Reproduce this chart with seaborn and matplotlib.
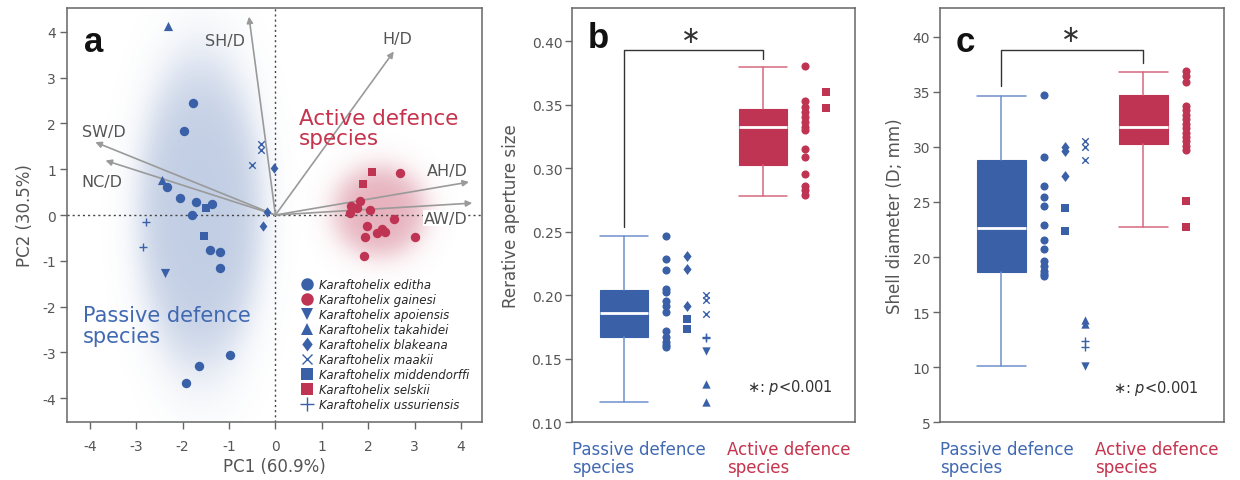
import numpy as np
import pandas as pd
import matplotlib
matplotlib.use("Agg")
import matplotlib.pyplot as plt
import matplotlib.colors as mcolors
from matplotlib.lines import Line2D
from matplotlib.path import Path
import seaborn as sns

# ============================ DATA ============================
species = ["editha", "gainesi", "apoiensis", "takahidei", "blakeana",
           "maakii", "middendorffi", "selskii", "ussuriensis"]
active_species = ["gainesi", "selskii"]
groups = ["Passive defence\nspecies", "Active defence\nspecies"]

# ---- panel a: PCA scores (PC1, PC2) ----
editha_pc1 = [-1.78, -1.96, -2.33, -2.05, -1.72, -1.36, -1.80, -1.40, -1.19, -1.20, -0.97, -1.65, -1.93]
editha_pc2 = [2.45, 1.83, 0.61, 0.37, 0.28, 0.23, 0.00, -0.77, -0.80, -1.16, -3.05, -3.29, -3.67]
gainesi_pc1 = [2.69, 1.83, 1.62, 1.76, 2.03, 1.60, 2.55, 1.98, 2.30, 2.37, 2.19, 1.94, 3.00, 1.90]
gainesi_pc2 = [0.91, 0.31, 0.19, 0.15, 0.10, 0.05, -0.09, -0.23, -0.31, -0.37, -0.40, -0.49, -0.48, -0.89]
apoiensis_pc1 = [-2.37]
apoiensis_pc2 = [-1.27]
takahidei_pc1 = [-2.32, -2.44]
takahidei_pc2 = [4.12, 0.77]
blakeana_pc1 = [-0.03, -0.18, -0.27]
blakeana_pc2 = [1.02, 0.06, -0.23]
maakii_pc1 = [-0.32, -0.32, -0.50]
maakii_pc2 = [1.56, 1.43, 1.10]
middendorffi_pc1 = [-1.49, -1.54]
middendorffi_pc2 = [0.15, -0.45]
selskii_pc1 = [2.08, 1.88]
selskii_pc2 = [0.94, 0.68]
ussuriensis_pc1 = [-2.79, -2.85]
ussuriensis_pc2 = [-0.15, -0.69]

# loading vectors
load_names = ["SH/D", "H/D", "SW/D", "NC/D", "AH/D", "AW/D"]
load_pc1 = [-0.57, 2.55, -3.88, -3.66, 4.17, 4.24]
load_pc2 = [4.33, 3.57, 1.59, 1.19, 0.72, 0.26]

# ---- panel b: relative aperture size ----
editha_ap = [0.2467, 0.2284, 0.2200, 0.2050, 0.2027, 0.1956, 0.1912, 0.1865, 0.1720, 0.1668, 0.1629, 0.1610, 0.1590]
gainesi_ap = [0.3805, 0.3528, 0.3480, 0.3440, 0.3400, 0.3360, 0.3320, 0.3300, 0.3149, 0.3091, 0.2952, 0.2860, 0.2830, 0.2790]
apoiensis_ap = [0.1558]
takahidei_ap = [0.1301, 0.1162]
blakeana_ap = [0.2310, 0.2205, 0.1912]
maakii_ap = [0.2001, 0.1962, 0.1852]
middendorffi_ap = [0.1812, 0.1734]
selskii_ap = [0.3602, 0.3471]
ussuriensis_ap = [0.1675, 0.1665]

ap_q1 = [0.1668, 0.3023]
ap_med = [0.1857, 0.3324]
ap_q3 = [0.2040, 0.3463]
ap_lo = [0.1160, 0.2782]
ap_hi = [0.2467, 0.3799]

# ---- panel c: shell diameter ----
editha_d = [34.70, 29.10, 26.47, 25.42, 24.66, 22.93, 21.54, 20.73, 19.67, 19.21, 18.76, 18.50, 18.30]
gainesi_d = [36.9, 36.4, 35.9, 33.7, 33.3, 32.9, 32.5, 32.1, 31.7, 31.3, 30.9, 30.5, 30.1, 29.7]
apoiensis_d = [10.14]
takahidei_d = [14.30, 13.92]
blakeana_d = [30.0, 29.6, 27.38]
maakii_d = [30.55, 29.95, 28.80]
middendorffi_d = [24.45, 22.39]
selskii_d = [25.11, 22.75]
ussuriensis_d = [12.41, 11.80]

d_q1 = [18.67, 30.25]
d_med = [22.60, 31.77]
d_q3 = [28.83, 34.73]
d_lo = [10.08, 22.70]
d_hi = [34.64, 36.76]

# ============================ STYLE ============================
sns.set_theme(style="ticks")
plt.rcParams["font.family"] = ["DejaVu Sans"]
plt.rcParams["axes.unicode_minus"] = False

BLUE = "#3A61A8"
RED = "#BE3452"
BLUE_W = "#7090CB"
RED_W = "#D4687F"
BLUE_T = "#4169B2"
RED_T = "#C5334D"
GRAY = "#555555"
SPINE = "#666666"

DIAMOND = Path([(0, 1), (0.75, 0), (0, -1), (-0.75, 0), (0, 1)],
               [Path.MOVETO, Path.LINETO, Path.LINETO, Path.LINETO, Path.CLOSEPOLY])

marker_of = {"editha": "o", "gainesi": "o", "apoiensis": "v", "takahidei": "^",
             "blakeana": DIAMOND, "maakii": "x", "middendorffi": "s",
             "selskii": "s", "ussuriensis": "+"}
color_of = {sp: (RED if sp in active_species else BLUE) for sp in species}
size_a = {"editha": 46, "gainesi": 46, "apoiensis": 44, "takahidei": 44, "blakeana": 55,
          "maakii": 22, "middendorffi": 38, "selskii": 38, "ussuriensis": 36}
size_box = {"editha": 34, "gainesi": 34, "apoiensis": 36, "takahidei": 36, "blakeana": 62,
            "maakii": 22, "middendorffi": 36, "selskii": 34, "ussuriensis": 28}

pca = {"editha": (editha_pc1, editha_pc2), "gainesi": (gainesi_pc1, gainesi_pc2),
       "apoiensis": (apoiensis_pc1, apoiensis_pc2), "takahidei": (takahidei_pc1, takahidei_pc2),
       "blakeana": (blakeana_pc1, blakeana_pc2), "maakii": (maakii_pc1, maakii_pc2),
       "middendorffi": (middendorffi_pc1, middendorffi_pc2), "selskii": (selskii_pc1, selskii_pc2),
       "ussuriensis": (ussuriensis_pc1, ussuriensis_pc2)}
ap = {"editha": editha_ap, "gainesi": gainesi_ap, "apoiensis": apoiensis_ap,
      "takahidei": takahidei_ap, "blakeana": blakeana_ap, "maakii": maakii_ap,
      "middendorffi": middendorffi_ap, "selskii": selskii_ap, "ussuriensis": ussuriensis_ap}
dia = {"editha": editha_d, "gainesi": gainesi_d, "apoiensis": apoiensis_d,
       "takahidei": takahidei_d, "blakeana": blakeana_d, "maakii": maakii_d,
       "middendorffi": middendorffi_d, "selskii": selskii_d, "ussuriensis": ussuriensis_d}

# column layout for the point strips next to the boxes
COL = [0.30, 0.45, 0.59]
col_b = {"editha": 0, "blakeana": 1, "middendorffi": 1, "maakii": 2, "ussuriensis": 2,
         "apoiensis": 2, "takahidei": 2, "gainesi": 0, "selskii": 1}
col_c = dict(col_b, selskii=0)

fig = plt.figure(figsize=(12.4, 4.81), dpi=100)
ax_a = fig.add_axes([67 / 1240, 1 - 423 / 481, 415 / 1240, 414 / 481])
ax_b = fig.add_axes([572 / 1240, 1 - 423.3 / 481, 283 / 1240, 414.3 / 481])
ax_c = fig.add_axes([940 / 1240, 1 - 423.3 / 481, 284 / 1240, 414.3 / 481])

for ax in (ax_a, ax_b, ax_c):
    for s in ax.spines.values():
        s.set_visible(True)
        s.set_color(SPINE)
        s.set_linewidth(1.1)
    ax.tick_params(direction="out", length=5, width=1, color=SPINE,
                   labelcolor=GRAY, labelsize=10)

# ============================ PANEL A ============================
ax = ax_a
XL, YL = (-4.49, 4.45), (-4.52, 4.52)
ax.set_xlim(*XL)
ax.set_ylim(*YL)


def blob(ax, cx, cy, a, b, color, amax, soft):
    xs = np.linspace(XL[0], XL[1], 500)
    ys = np.linspace(YL[0], YL[1], 500)
    X, Y = np.meshgrid(xs, ys)
    r = np.sqrt(((X - cx) / a) ** 2 + ((Y - cy) / b) ** 2)
    alpha = amax / (1 + np.exp((r - 1) / soft))
    rgba = np.zeros(X.shape + (4,))
    rgba[..., :3] = mcolors.to_rgb(color)
    rgba[..., 3] = alpha
    ax.imshow(rgba, extent=(XL[0], XL[1], YL[0], YL[1]), origin="lower",
              aspect="auto", zorder=0, interpolation="bilinear")


blob(ax, -1.62, 0.05, 1.30, 3.3, BLUE, 0.31, 0.15)
blob(ax, 2.25, 0.08, 0.95, 0.95, RED, 0.38, 0.18)

ax.axhline(0, color="#444444", lw=1.0, ls=(0, (1.5, 2.2)), zorder=1)
ax.axvline(0, color="#444444", lw=1.0, ls=(0, (1.5, 2.2)), zorder=1)

lab_dx = [-0.51, 0.07, 0.18, -0.08, -0.47, -0.58]
lab_dy = [-0.51, 0.28, 0.24, -0.46, 0.25, -0.33]
lab_box = [False, False, False, False, False, True]
for name, lx, ly, dx, dy, bx in zip(load_names, load_pc1, load_pc2, lab_dx, lab_dy, lab_box):
    ax.annotate("", xy=(lx, ly), xytext=(0, 0),
                arrowprops=dict(arrowstyle="-|>", color="#9A9A9A", lw=1.2,
                                mutation_scale=9, shrinkA=0, shrinkB=0), zorder=2)
    ax.text(lx + dx, ly + dy, name, fontsize=11.5, color=GRAY, ha="center", va="center",
            zorder=2, bbox=(dict(facecolor="white", edgecolor="none", pad=0.5) if bx else None))

for sp in species:
    x, y = pca[sp]
    df = pd.DataFrame({"PC1": x, "PC2": y})
    m = marker_of[sp]
    lined = m in ("x", "+")
    sns.scatterplot(data=df, x="PC1", y="PC2", ax=ax, marker=m, color=color_of[sp],
                    s=size_a[sp], linewidth=(1.0 if lined else 0),
                    edgecolor=color_of[sp], legend=False, zorder=4)

ax.set_xticks(np.arange(-4, 5, 1))
ax.set_yticks(np.arange(-4, 5, 1))
ax.tick_params(axis="x", pad=7)
ax.tick_params(axis="y", pad=3)
ax.set_xlabel("PC1 (60.9%)", fontsize=12, color=GRAY, labelpad=3)
ax.set_ylabel("PC2 (30.5%)", fontsize=12, color=GRAY, labelpad=6)

ax.text(0.063, 0.918, "a", transform=ax.transAxes, fontsize=25, fontweight="bold",
        family="Liberation Sans", ha="center", va="center", color="#111111")
ax.text(0.50, 1.90, "Active defence\nspecies", fontsize=15.5, color=RED_T,
        ha="left", va="center", linespacing=1.05, zorder=5)
ax.text(-4.15, -2.42, "Passive defence\nspecies", fontsize=15, color=BLUE_T,
        ha="left", va="center", linespacing=1.05, zorder=5)

handles = []
for sp in species:
    m = marker_of[sp]
    lined = m in ("x", "+")
    ms = {"o": 9, "v": 8.5, "^": 8.5, "x": 7, "s": 8, "+": 10}.get(m, 10) if isinstance(m, str) else 10
    handles.append(Line2D([], [], linestyle="None", marker=m, color=color_of[sp],
                          markersize=ms, markeredgewidth=(1.0 if lined else 0)))
ax.legend(handles, ["Karaftohelix " + sp for sp in species], loc="lower left",
          bbox_to_anchor=(0.565, 0.026), frameon=False,
          prop=dict(style="italic", size=8.5), handletextpad=0.5,
          labelspacing=0.17, borderaxespad=0, handlelength=1.0, borderpad=0)

# ============================ BOX PANELS ============================
BOXW = 0.345


def box_panel(ax, values, cols, q1, med, q3, lo, hi, xlim, ylim, yticks, fmt,
              ylabel, letter, letter_xy, bracket_x, bracket_y, star_xy, ptext_xy, ylabelpad):
    ax.set_xlim(*xlim)
    ax.set_ylim(*ylim)
    for i, (fc, wc) in enumerate([(BLUE, BLUE_W), (RED, RED_W)]):
        st = dict(med=med[i], q1=q1[i], q3=q3[i], whislo=lo[i], whishi=hi[i], fliers=[])
        ax.bxp([st], positions=[i], widths=BOXW, capwidths=BOXW, patch_artist=True,
               showfliers=False, manage_ticks=False,
               boxprops=dict(facecolor=fc, edgecolor=fc, linewidth=0.8),
               medianprops=dict(color="white", linewidth=2.0, solid_capstyle="butt"),
               whiskerprops=dict(color=wc, linewidth=1.1),
               capprops=dict(color=wc, linewidth=1.1))
    for sp in species:
        g = 1 if sp in active_species else 0
        vals = values[sp]
        df = pd.DataFrame({"pos": np.full(len(vals), g + COL[cols[sp]]), "val": vals})
        m = marker_of[sp]
        lined = m in ("x", "+")
        sns.scatterplot(data=df, x="pos", y="val", ax=ax, marker=m, color=color_of[sp],
                        s=size_box[sp], linewidth=(1.0 if lined else 0),
                        edgecolor=color_of[sp], legend=False, zorder=4)
    ax.set_xticks([])
    ax.set_yticks(yticks)
    ax.set_yticklabels([fmt.format(t) for t in yticks])
    ax.tick_params(axis="y", pad=2)
    ax.set_xlabel("")
    ax.set_ylabel(ylabel, fontsize=12, color=GRAY, labelpad=ylabelpad)
    ax.text(letter_xy[0], letter_xy[1], letter, transform=ax.transAxes, fontsize=25,
            fontweight="bold", family="Liberation Sans", ha="center", va="center",
            color="#111111")
    ax.plot(bracket_x, bracket_y, color="#333333", lw=1.0, zorder=3)
    ax.text(star_xy[0], star_xy[1], "\u2217", fontsize=17, color="#333333",
            ha="center", va="center")
    ax.text(ptext_xy[0], ptext_xy[1], "\u2217: $\\it{p}$<0.001", fontsize=10.5,
            color="#333333", ha="left", va="center")
    for i, (txt, col, xf) in enumerate(zip(groups, [BLUE_T, RED_T], [0.0, 0.547])):
        ax.annotate(txt, xy=(xf, 0), xycoords="axes fraction", xytext=(0, -12.5),
                    textcoords="offset points", ha="left", va="top", fontsize=12,
                    color=col, linespacing=1.05, annotation_clip=False)


box_panel(ax_b, ap, col_b, ap_q1, ap_med, ap_q3, ap_lo, ap_hi,
          (-0.374, 1.662), (0.10, 0.426), [0.10, 0.15, 0.20, 0.25, 0.30, 0.35, 0.40], "{:.2f}",
          "Rerative aperture size", "b", (0.092, 0.930),
          [0, 0, 1, 1], [0.2533, 0.3927, 0.3927, 0.3862], (0.48, 0.405), (0.885, 0.1278), 8)

box_panel(ax_c, dia, col_c, d_q1, d_med, d_q3, d_lo, d_hi,
          (-0.43, 1.57), (5, 42.6), [5, 10, 15, 20, 25, 30, 35, 40], "{:d}",
          "Shell diameter (D; mm)", "c", (0.088, 0.920),
          [0, 0, 1, 1], [35.49, 38.78, 38.78, 37.58], (0.49, 40.24), (0.79, 8.2), 6)

fig.savefig("out.png", dpi=100)
